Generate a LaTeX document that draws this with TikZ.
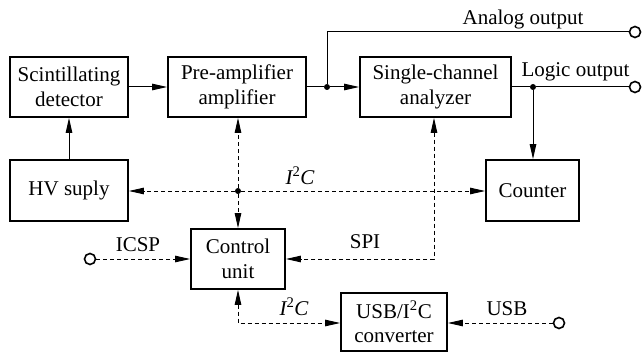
\documentclass[tikz,border=0pt]{standalone}
\usepackage{fontspec}
\setmainfont{Liberation Serif}
\newfontfamily\blockfont{Liberation Serif}
\usetikzlibrary{arrows.meta}
\begin{document}
\begin{tikzpicture}[x=1pt,y=-1pt,
  every node/.style={font=\blockfont\fontsize{21}{24.5}\selectfont},
  block/.style={draw,line width=1.8pt,minimum height=60pt,inner sep=0pt,align=center},
  conn/.style={line width=1pt},
  bus/.style={line width=0.9pt,dash pattern=on 4pt off 3pt},
  tip/.style={-{Triangle[length=15pt,width=6.5pt]}},
  biptip/.style={{Triangle[length=15pt,width=6.5pt]}-{Triangle[length=15pt,width=6.5pt]}},
  port/.style={circle,draw,line width=1.6pt,minimum size=11pt,inner sep=0pt},
  dot/.style={circle,fill,minimum size=6pt,inner sep=0pt},
  lbl/.style={anchor=base,inner sep=0pt}]
\useasboundingbox (0,0) rectangle (643,353);

% blocks
\node[block,minimum width=118pt] (det) at (69,87) {Scintillating\\detector};
\node[block,minimum width=138pt] (pre) at (237,87) {Pre-amplifier\\amplifier};
\node[block,minimum width=151pt] (sca) at (435.5,87) {Single-channel\\analyzer};
\node[block,minimum width=118pt,minimum height=61pt] (hv) at (69,190.5) {HV suply};
\node[block,minimum width=93pt,minimum height=61pt] (cnt) at (532.5,190.5) {Counter};
\node[block,minimum width=94pt] (ctl) at (238,259) {Control\\unit};
\node[block,minimum width=106pt,minimum height=58pt] (usb) at (394,322) {USB/I\textsuperscript{2}C\\converter};

% junctions and ports
\node[dot] (j1) at (327,87) {};
\node[dot] (j2) at (533,87) {};
\node[dot] (j3) at (238,191) {};
\coordinate (aup) at (327,32);
\node[port] (aout) at (635,32) {};
\node[port] (lout) at (635,87) {};
\node[port] (icsp) at (90,259) {};
\node[port] (usbp) at (559,323) {};
\coordinate (spic) at (434,259);
\coordinate (i2cc) at (238,323);

% signal path
\draw[conn,tip] (det) -- (pre);
\draw[conn,tip] (hv) -- (det);
\draw[conn] (pre) -- (j1);
\draw[conn,tip] (j1) -- (sca);
\draw[conn] (j1) -- (aup) -- (aout);
\draw[conn] (sca) -- (j2) -- (lout);
\draw[conn,tip] (j2) -- (j2 |- cnt.north);

% I2C bus
\draw[bus,tip] (j3) -- (hv.east |- j3);
\draw[bus,tip] (j3) -- (cnt.west |- j3);
\draw[bus,tip] (j3) -- (j3 |- pre.south);
\draw[bus,tip] (j3) -- (ctl.north);

% programming and control links
\draw[bus,tip] (icsp) -- (ctl.west |- icsp);
\draw[bus,biptip] (sca.south -| spic) -- (spic) -- (ctl.east |- spic);
\draw[bus,biptip] (ctl.south -| i2cc) -- (i2cc) -- (usb.west |- i2cc);
\draw[bus,tip] (usbp) -- (usb.east |- usbp);

% labels
\node[lbl] at (523,25) {Analog output};
\node[lbl] at (575.5,77) {Logic output};
\node[lbl] at (300,184) {\itshape I\textsuperscript{\upshape 2}C};
\node[lbl] at (138,251) {ICSP};
\node[lbl] at (365,248) {SPI};
\node[lbl] at (294,315) {\itshape I\textsuperscript{\upshape 2}C};
\node[lbl] at (507,315) {USB};
\end{tikzpicture}
\end{document}
